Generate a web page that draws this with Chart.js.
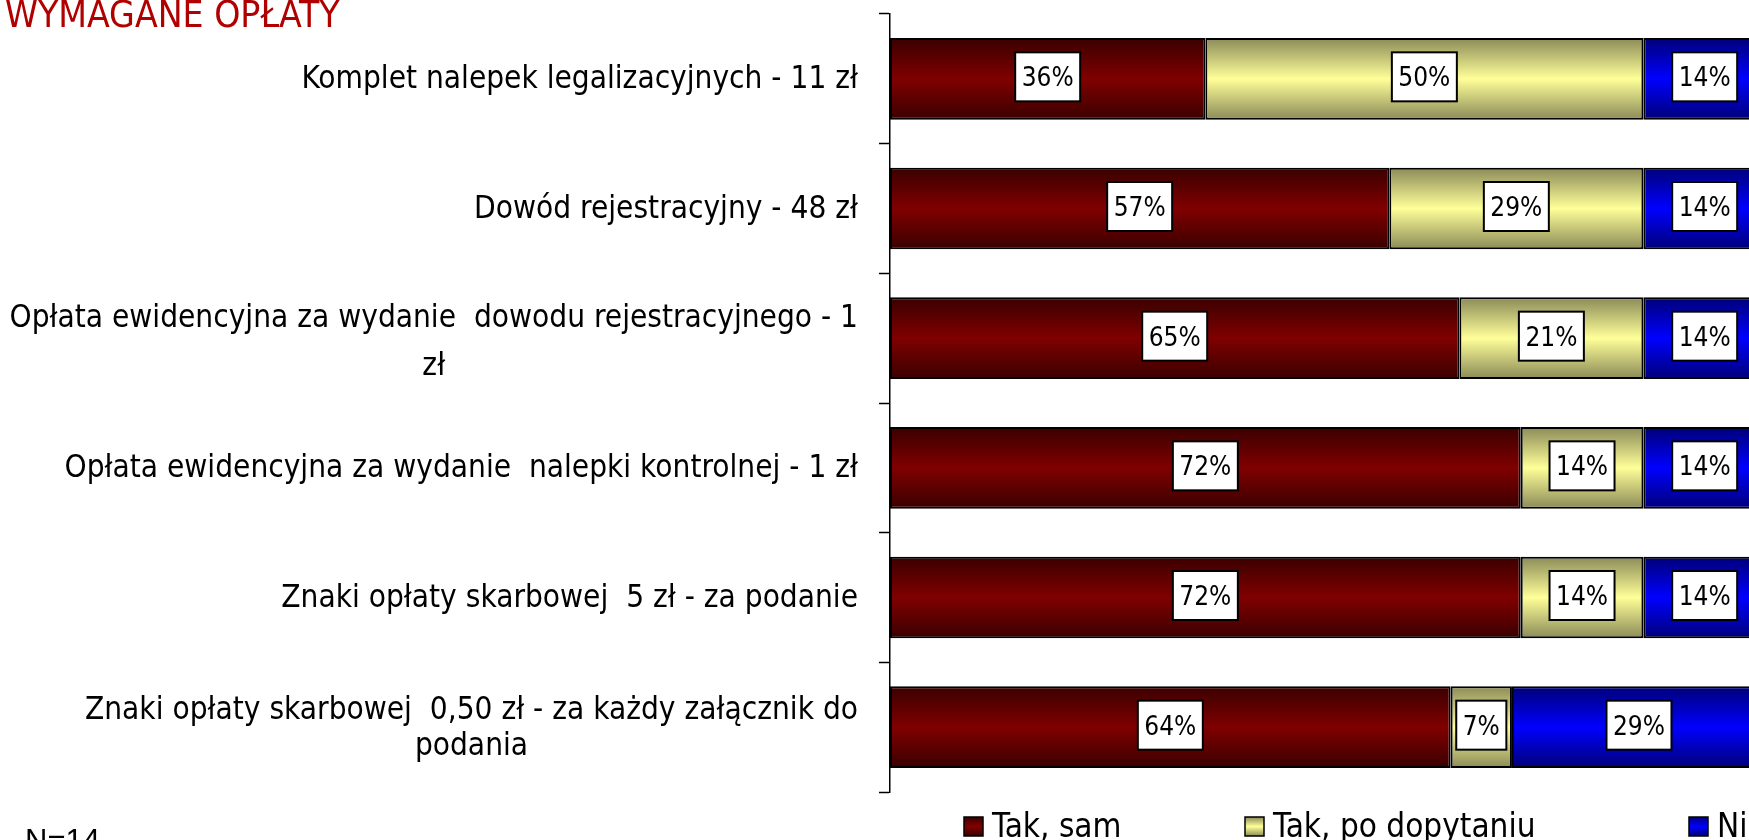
<!DOCTYPE html>
<html lang="pl">
<head>
<meta charset="utf-8">
<title>Wymagane opłaty</title>
<script src="https://cdn.jsdelivr.net/npm/chart.js@4.4.1/dist/chart.umd.min.js"></script>
<style>
  html, body { margin: 0; padding: 0; background: #fff; }
  #wrap { width: 1749px; height: 840px; overflow: hidden; position: relative; }
  canvas { display: block; }
</style>
</head>
<body>
<div id="wrap"><canvas id="chart" width="1770" height="840"></canvas></div>
<script>
// kategorie (opłaty) i odpowiedzi w %
const kategorie = [
  'Komplet nalepek legalizacyjnych - 11 zł',
  'Dowód rejestracyjny - 48 zł',
  ['Opłata ewidencyjna za wydanie  dowodu rejestracyjnego - 1', 'zł'],
  'Opłata ewidencyjna za wydanie  nalepki kontrolnej - 1 zł',
  'Znaki opłaty skarbowej  5 zł - za podanie',
  ['Znaki opłaty skarbowej  0,50 zł - za każdy załącznik do', 'podania']
];
const serie = ['Tak, sam', 'Tak, po dopytaniu', 'Nie'];
const takSam = [36, 57, 65, 72, 72, 64];
const takPoDopytaniu = [50, 29, 21, 14, 14, 7];
const nie = [14, 14, 14, 14, 14, 29];

const FONT = "'DejaVu Sans Condensed', 'DejaVu Sans', sans-serif";
const SZER_SLUPKA = 0.63;

// kolor krawędzi i środka paska (gradient poziomy)
const kolory = [
  ['#3a0000', '#800000'],
  ['#8a8a58', '#ffff99'],
  ['#000078', '#0000ff']
];

function gradient(ctx, top, bottom, para) {
  const g = ctx.createLinearGradient(0, top, 0, bottom);
  g.addColorStop(0, para[0]);
  g.addColorStop(0.5, para[1]);
  g.addColorStop(1, para[0]);
  return g;
}

function wypelnienie(i) {
  return (c) => {
    const y = c.chart.scales.y;
    if (c.type !== 'data' || !y) return kolory[i][1];
    const srodek = y.getPixelForValue(c.dataIndex);
    const pol = (y.height / kategorie.length) * SZER_SLUPKA / 2;
    if (!isFinite(srodek) || !isFinite(pol) || pol <= 0) return kolory[i][1];
    return gradient(c.chart.ctx, srodek - pol, srodek + pol, kolory[i]);
  };
}

// etykiety kategorii: blok wyrównany do prawej, linie wyśrodkowane
// przesunięcia linii bazowych względem środka kategorii
const PRZESUNIECIA = [[9], [9], [-11, 37], [9], [9], [-8, 28]];
const etykietyOsi = {
  id: 'etykietyOsi',
  afterDraw(chart) {
    const { ctx, scales: { y } } = chart;
    ctx.save();
    ctx.font = '31.3px ' + FONT;
    ctx.fillStyle = '#000';
    ctx.textAlign = 'center';
    ctx.textBaseline = 'alphabetic';
    const prawa = 858;
    kategorie.forEach((lab, i) => {
      const linie = Array.isArray(lab) ? lab : [lab];
      const szer = Math.max(...linie.map(t => ctx.measureText(t).width));
      const cx = prawa - szer / 2;
      const srodek = y.getPixelForValue(i);
      linie.forEach((t, k) => ctx.fillText(t, cx, srodek + PRZESUNIECIA[i][k]));
    });
    ctx.restore();
  }
};

// wartości w białych ramkach na środku segmentów
const etykietyWartosci = {
  id: 'etykietyWartosci',
  afterDatasetsDraw(chart) {
    const ctx = chart.ctx;
    ctx.save();
    ctx.font = '26px ' + FONT;
    ctx.textAlign = 'center';
    ctx.textBaseline = 'alphabetic';
    chart.data.datasets.forEach((ds, d) => {
      chart.getDatasetMeta(d).data.forEach((bar, i) => {
        const tekst = ds.data[i] + '%';
        const w = ctx.measureText(tekst).width + 13;
        const h = 49;
        const x = (bar.x + bar.base) / 2;
        const yy = bar.y - 2;
        ctx.fillStyle = '#fff';
        ctx.fillRect(x - w / 2, yy - h / 2, w, h);
        ctx.lineWidth = 2;
        ctx.strokeStyle = '#000';
        ctx.strokeRect(x - w / 2, yy - h / 2, w, h);
        ctx.fillStyle = '#000';
        ctx.fillText(tekst, x, yy + 9.5);
      });
    });
    ctx.restore();
  }
};

// tytuł, legenda i liczebność próby
const opisy = {
  id: 'opisy',
  afterDraw(chart) {
    const ctx = chart.ctx;
    ctx.save();
    ctx.textBaseline = 'alphabetic';
    ctx.textAlign = 'left';

    ctx.font = '37px ' + FONT;
    ctx.fillStyle = '#b00000';
    ctx.fillText('WYMAGANE OPŁATY', 5, 27);

    ctx.font = '31px "Liberation Sans", Arial, sans-serif';
    ctx.fillStyle = '#000';
    ctx.fillText('N=14', 25, 851);

    const pozycje = [964, 1245, 1689];
    ctx.font = '33px ' + FONT;
    serie.forEach((nazwa, i) => {
      const x = pozycje[i];
      ctx.fillStyle = gradient(ctx, 817, 836, kolory[i]);
      ctx.fillRect(x, 817, 19, 19);
      ctx.lineWidth = 1.5;
      ctx.strokeStyle = '#000';
      ctx.strokeRect(x, 817, 19, 19);
      ctx.fillStyle = '#000';
      ctx.fillText(nazwa, x + 28, 837);
    });
    ctx.restore();
  }
};

const wspolne = {
  borderColor: '#000',
  borderWidth: 2,
  borderSkipped: false,
  barPercentage: SZER_SLUPKA,
  categoryPercentage: 1
};

new Chart(document.getElementById('chart'), {
  type: 'bar',
  data: {
    labels: kategorie,
    datasets: [
      { label: serie[0], data: takSam, backgroundColor: wypelnienie(0), ...wspolne },
      { label: serie[1], data: takPoDopytaniu, backgroundColor: wypelnienie(1), ...wspolne },
      { label: serie[2], data: nie, backgroundColor: wypelnienie(2), ...wspolne }
    ]
  },
  options: {
    indexAxis: 'y',
    responsive: false,
    animation: false,
    devicePixelRatio: 1,
    layout: { padding: { left: 879, right: 4, top: 14, bottom: 48 } },
    scales: {
      x: { display: false, stacked: true, min: 0, max: 100 },
      y: {
        stacked: true,
        ticks: { display: false },
        border: { display: true, color: '#000', width: 1.5 },
        grid: {
          drawOnChartArea: false,
          drawTicks: true,
          tickLength: 11,
          tickColor: '#000',
          tickWidth: 1.5
        }
      }
    },
    plugins: {
      legend: { display: false },
      tooltip: { enabled: false }
    }
  },
  plugins: [etykietyOsi, etykietyWartosci, opisy]
});
</script>
</body>
</html>
